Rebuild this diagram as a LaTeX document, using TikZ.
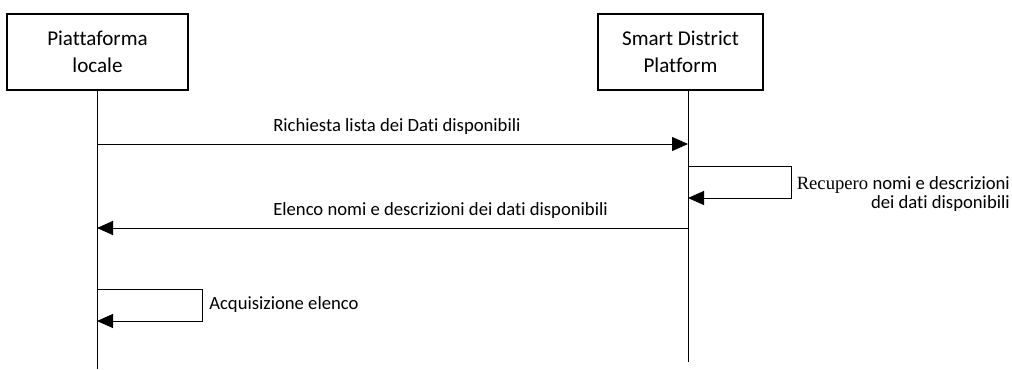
\documentclass[tikz,border=0pt]{standalone}
\usepackage{fontspec}
\setmainfont{Carlito}[Ligatures={NoCommon}]
\newfontfamily\timesfont{Liberation Serif}
\usetikzlibrary{positioning,arrows.meta}

\begin{document}
\begin{tikzpicture}[
  x=0.75pt, y=-0.75pt,
  actor/.style={draw, line width=1.5pt, minimum height=57pt, align=center,
    font=\fontsize{15.8}{20}\selectfont},
  lifeline/.style={line width=0.75pt},
  msg/.style={-{Triangle[length=12pt, width=10.5pt]}, line width=0.75pt},
  lbl/.style={font=\fontsize{14}{14.25}\selectfont, inner sep=0pt}
]
\useasboundingbox (0,0) rectangle (1012,369);

% partecipanti
\node[actor, minimum width=135.75pt] (pl) at (97.5,52) {Piattaforma\\locale};
\node[actor, minimum width=123.75pt] (sdp) at (680.5,51.5) {Smart District\\Platform};

% linee di vita
\coordinate (plend) at (97,369);
\coordinate (sdpend) at (688,362);
\draw[lifeline] (pl.south -| plend) -- (plend);
\draw[lifeline] (sdp.south -| sdpend) -- (sdpend);

% punti sui tempi
\coordinate (m1a) at (97,144);
\coordinate (m1b) at (688,144);
\coordinate (r1a) at (688,166);
\coordinate (r1b) at (688,198);
\coordinate (m2a) at (688,228);
\coordinate (m2b) at (97,228);
\coordinate (r2a) at (97,289);
\coordinate (r2b) at (97,321);

% messaggi
\draw[msg] (m1a) -- (m1b);
\node[lbl, anchor=base west] (l1) at (273,131) {Richiesta lista dei Dati disponibili};

\draw[msg] (r1a) -- ++(103,0) |- (r1b);
\node[lbl, anchor=east, align=right] (l2) at (1010,194)
  {{\timesfont Recupero} nomi e descrizioni\\dei dati disponibili};

\draw[msg] (m2a) -- (m2b);
\node[lbl, anchor=base west] (l3) at (273,215) {Elenco nomi e descrizioni dei dati disponibili};

\draw[msg] (r2a) -- ++(105,0) |- (r2b);
\node[lbl, anchor=base west] (l4) at (209,309) {Acquisizione elenco};
\end{tikzpicture}
\end{document}
